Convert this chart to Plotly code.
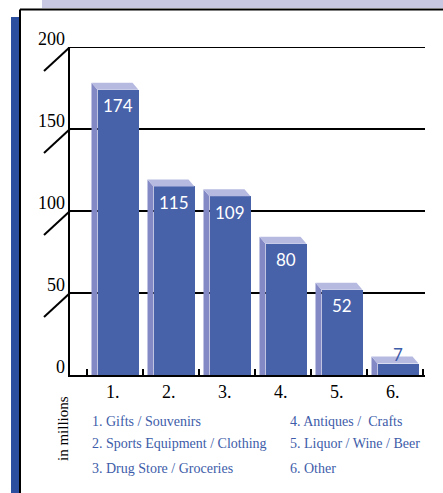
import plotly.graph_objects as go

categories = [1, 2, 3, 4, 5, 6]
cat_labels = ["1.", "2.", "3.", "4.", "5.", "6."]
values = [174, 115, 109, 80, 52, 7]
y_ticks = [0, 50, 100, 150, 200]
legend_col1 = ["1. Gifts / Souvenirs", "2. Sports Equipment / Clothing", "3. Drug Store / Groceries"]
legend_col2 = ["4. Antiques /  Crafts", "5. Liquor / Wine / Beer", "6. Other"]

W, H = 443, 493
PX_L, PX_R, PX_T, PX_B = 70, 425, 47, 375
UNIT = 56.0
X0 = 1 - (115 - PX_L) / UNIT
X1 = 1 + (PX_R - 115) / UNIT
PX_PER_Y = (PX_B - PX_T) / 200.0

FRONT = "#4862aa"
SIDE = "#8389c4"
TOP = "#b6bae1"
TEXT_BLUE = "#3d5ca9"

bar_w = 41 / UNIT
bar_off = -17.5 / UNIT
dx = 6 / UNIT
dy = 7 / PX_PER_Y

fig = go.Figure()

sx, sy = [], []
tx, ty = [], []
for c, v in zip(categories, values):
    l = c + bar_off
    r = l + bar_w
    sx += [l - dx, l - dx, l, l, l - dx, None]
    sy += [0, v + dy, v, 0, 0, None]
    tx += [l - dx, r - dx, r, l, l - dx, None]
    ty += [v + dy, v + dy, v, v, v + dy, None]

fig.add_trace(go.Scatter(x=sx, y=sy, mode="lines", fill="toself", fillcolor=SIDE,
                         line=dict(width=0), hoverinfo="skip", showlegend=False))
fig.add_trace(go.Scatter(x=tx, y=ty, mode="lines", fill="toself", fillcolor=TOP,
                         line=dict(width=0), hoverinfo="skip", showlegend=False))
fig.add_trace(go.Bar(x=categories, y=values, width=bar_w, offset=bar_off,
                     marker=dict(color=FRONT, line=dict(width=0)), showlegend=False))

for c, v in zip(categories, values):
    cx = c + bar_off + bar_w / 2
    if v > 30:
        fig.add_annotation(x=cx, y=v, xref="x", yref="y", text=str(v), showarrow=False,
                           yanchor="middle", yshift=-16,
                           font=dict(family="Lato", size=17, color="white"))
    else:
        fig.add_annotation(x=cx, y=v, xref="x", yref="y", text=str(v), showarrow=False,
                           yanchor="middle", yshift=9,
                           font=dict(family="Lato", size=17, color=TEXT_BLUE))

for c, t in zip(categories, cat_labels):
    fig.add_annotation(x=c, y=0, xref="x", yref="y", text=t, showarrow=False,
                       yanchor="middle", yshift=-17, xshift=-2,
                       font=dict(family="Liberation Serif", size=18, color="black"))

for t in y_ticks:
    fig.add_annotation(x=0, y=t, xref="x domain", yref="y", text=str(t), showarrow=False,
                       xanchor="right", yanchor="middle", xshift=-3, yshift=8,
                       font=dict(family="Liberation Serif", size=18, color="black"))
    fig.add_shape(type="line", xref="x domain", yref="y",
                  xsizemode="pixel", xanchor=0, x0=0, x1=-26,
                  ysizemode="pixel", yanchor=t, y0=0, y1=-24,
                  line=dict(color="black", width=2))

# top gridline (plotly hides the grid line at the range end)
fig.add_shape(type="line", xref="x domain", yref="y", x0=0, x1=1, y0=max(y_ticks), y1=max(y_ticks),
              line=dict(color="black", width=2))

rows_y = [421, 443, 468]
for i, t in enumerate(legend_col1):
    fig.add_annotation(x=90 / W, y=1 - rows_y[i] / H, xref="paper", yref="paper", text=t,
                       showarrow=False, xanchor="left", yanchor="middle",
                       font=dict(family="Liberation Serif", size=14, color=TEXT_BLUE))
for i, t in enumerate(legend_col2):
    fig.add_annotation(x=288 / W, y=1 - rows_y[i] / H, xref="paper", yref="paper", text=t,
                       showarrow=False, xanchor="left", yanchor="middle",
                       font=dict(family="Liberation Serif", size=14, color=TEXT_BLUE))

fig.add_annotation(x=63 / W, y=1 - 429 / H, xref="paper", yref="paper", text="in millions",
                   showarrow=False, textangle=-90, xanchor="center", yanchor="middle",
                   font=dict(family="Liberation Serif", size=15, color="black"))

fig.add_shape(type="rect", xref="paper", yref="paper", x0=42 / W, x1=1, y0=1 - 8 / H, y1=1,
              fillcolor="#c8c8e2", line=dict(width=0), layer="below")
fig.add_shape(type="rect", xref="paper", yref="paper", x0=11 / W, x1=19 / W, y0=0, y1=1 - 17 / H,
              fillcolor="#2b4f9e", line=dict(width=0), layer="below")
fig.add_shape(type="line", xref="paper", yref="paper", x0=20 / W, x1=1, y0=1 - 9.5 / H, y1=1 - 9.5 / H,
              line=dict(color="black", width=2))
fig.add_shape(type="line", xref="paper", yref="paper", x0=20 / W, x1=20 / W, y0=0, y1=1 - 9.5 / H,
              line=dict(color="black", width=2))

fig.update_layout(
    width=W, height=H,
    margin=dict(l=0, r=0, t=0, b=0),
    paper_bgcolor="white", plot_bgcolor="white",
    bargap=0,
    xaxis=dict(domain=[PX_L / W, PX_R / W], range=[X0, X1], showgrid=False,
               showticklabels=False, zeroline=False,
               showline=True, linecolor="black", linewidth=2,
               ticks="",
               minor=dict(tickmode="linear", tick0=0.5, dtick=1, ticks="inside",
                          ticklen=6, tickwidth=2, tickcolor="black", showgrid=False)),
    yaxis=dict(domain=[1 - PX_B / H, 1 - PX_T / H], range=[0, 200], tickvals=y_ticks,
               showticklabels=False, showgrid=True, gridcolor="black", gridwidth=2,
               zeroline=False, showline=True, linecolor="black", linewidth=2, ticks=""),
)

fig.write_html("out.html")
